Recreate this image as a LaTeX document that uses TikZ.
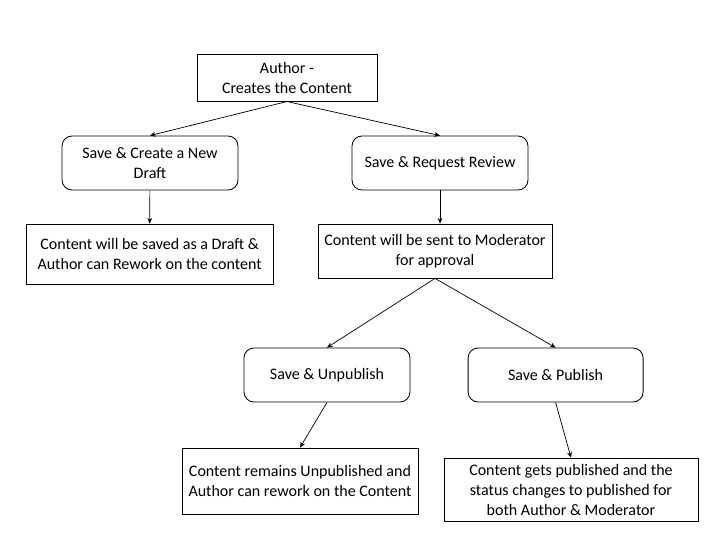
\documentclass[tikz,border=0pt]{standalone}
\usepackage{fontspec}
\setmainfont{Carlito}
\usepackage{tikz}
\usetikzlibrary{arrows.meta, positioning}

\begin{document}
\begin{tikzpicture}[
  font=\fontsize{11.4}{14.2}\selectfont,
  box/.style={draw, line width=0.6pt, align=center, inner sep=0pt},
  action/.style={box, rounded corners=0.25cm},
  flow/.style={-{Stealth[length=4pt, width=3.5pt]}, line width=0.5pt}
  ]
  \useasboundingbox (0,0) rectangle (18,-13.5);

  % flow chart
  \node[box, minimum width=4.5cm, minimum height=1.175cm]
  (author) at (7.175,-1.94) {Author -\\Creates the Content};
  \node[action, minimum width=4.4cm, minimum height=1.35cm]
  (draft) at (3.75,-4.075) {Save \& Create a New\\Draft};
  \node[action, minimum width=4.4cm, minimum height=1.35cm]
  (review) at (11,-4.075) {Save \& Request Review};
  \node[box, minimum width=6.175cm, minimum height=1.5cm]
  (saved) at (3.74,-6.35) {Content will be saved as a Draft \&\\Author can Rework on the content};
  \node[box, minimum width=5.85cm, minimum height=1.35cm]
  (moderator) at (10.875,-6.275) {Content will be sent to Moderator\\for approval};
  \node[action, minimum width=4.15cm, minimum height=1.35cm]
  (unpublish) at (8.175,-9.375) {Save \& Unpublish};
  \node[action, minimum width=4.375cm, minimum height=1.35cm]
  (publish) at (13.89,-9.375) {Save \& Publish};
  \node[box, minimum width=5.9cm, minimum height=1.65cm]
  (remains) at (7.5,-12.025) {Content remains Unpublished and\\Author can rework on the Content};
  \node[box, minimum width=6.35cm, minimum height=1.575cm]
  (gets) at (14.275,-12.24) {Content gets published and the\\status changes to published for\\both Author \& Moderator};

  \draw[flow] (author.south) -- (draft.north);
  \draw[flow] (author.south) -- (review.north);
  \draw[flow] (draft) -- (saved);
  \draw[flow] (review.south) -- (review.south |- moderator.north);
  \draw[flow] (moderator.south) -- (unpublish.north);
  \draw[flow] (moderator.south) -- (publish.north);
  \draw[flow] (unpublish.south) -- (remains.north);
  \draw[flow] (publish.south) -- (gets.north);
\end{tikzpicture}
\end{document}
